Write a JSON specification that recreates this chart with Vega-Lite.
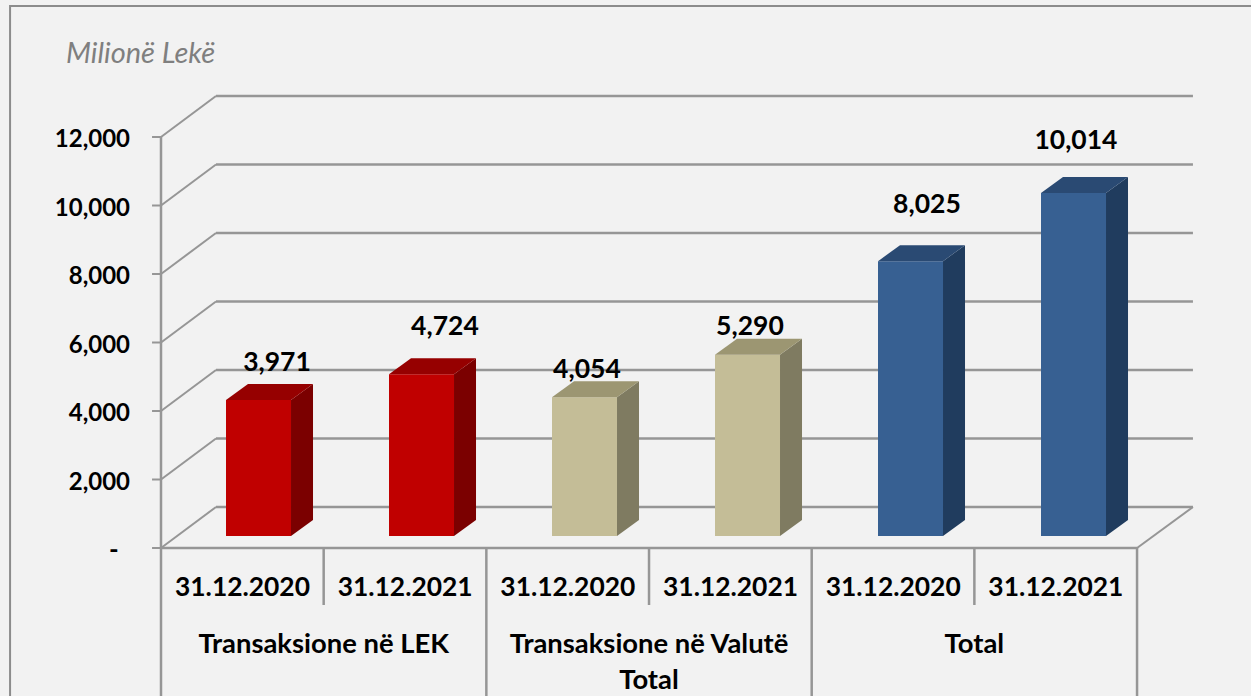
{
"$schema":"https://vega.github.io/schema/vega-lite/v6.json",
"autosize":"none",
"width":1251,"height":696,"padding":0,
"background":"#f2f2f2",
"config":{"view":{"stroke":null},"text":{"font":"Lato"}},
"datasets":{
"bars":[
{"i":0,"group":"Transaksione në LEK","date":"31.12.2020","value":3971},
{"i":1,"group":"Transaksione në LEK","date":"31.12.2021","value":4724},
{"i":2,"group":"Transaksione në Valutë Total","date":"31.12.2020","value":4054},
{"i":3,"group":"Transaksione në Valutë Total","date":"31.12.2021","value":5290},
{"i":4,"group":"Total","date":"31.12.2020","value":8025},
{"i":5,"group":"Total","date":"31.12.2021","value":10014}],
"ticks":[{"v":0,"label":"-"},{"v":2000,"label":"2,000"},{"v":4000,"label":"4,000"},{"v":6000,"label":"6,000"},{"v":8000,"label":"8,000"},{"v":10000,"label":"10,000"},{"v":12000,"label":"12,000"}],
"groups":[{"pos":1,"line":0,"label":"Transaksione në LEK"},{"pos":3,"line":0,"label":"Transaksione në Valutë"},{"pos":3,"line":1,"label":"Total"},{"pos":5,"line":0,"label":"Total"}],
"cuts":[{"c":0,"full":1},{"c":1,"full":0},{"c":2,"full":1},{"c":3,"full":0},{"c":4,"full":1},{"c":5,"full":0},{"c":6,"full":1}],
"one":[{"t":"Milionë Lekë"}]
},
"data":{"name":"one"},
"layer":[
{"transform":[{"calculate":"-0.926","as":"xa"},{"calculate":"6.9","as":"xb"},{"calculate":"15825","as":"ya"},{"calculate":"-5000","as":"yb"}],
 "mark":{"type":"rect","fill":"#f2f2f2","stroke":"#8c8c8c","strokeWidth":2},
 "encoding":{"x":{"field":"xa","type":"quantitative","scale":{"domain":[-0.98773,6.68712],"nice":false,"zero":false},"axis":null},"x2":{"field":"xb"},
 "y":{"field":"ya","type":"quantitative","scale":{"domain":[-4321,16000],"nice":false,"zero":false},"axis":null},"y2":{"field":"yb"}}},
{"data":{"name":"ticks"},"transform":[{"calculate":"datum.v+1197","as":"vb"},{"calculate":"0.3374","as":"xa"},{"calculate":"6.331","as":"xb"}],"mark":{"type":"rule","stroke":"#969696","strokeWidth":2.5},
 "encoding":{"x":{"field":"xa","type":"quantitative"},"x2":{"field":"xb"},"y":{"field":"vb","type":"quantitative"}}},
{"data":{"name":"ticks"},"transform":[{"calculate":"datum.v+1197","as":"vb"},{"calculate":"0","as":"xa"},{"calculate":"0.3374","as":"xb"}],"mark":{"type":"rule","stroke":"#969696","strokeWidth":2},
 "encoding":{"x":{"field":"xa","type":"quantitative"},"x2":{"field":"xb"},"y":{"field":"v","type":"quantitative"},"y2":{"field":"vb"}}},
{"data":{"name":"ticks"},"transform":[{"calculate":"-0.055","as":"xa"},{"calculate":"0","as":"xb"}],"mark":{"type":"rule","stroke":"#969696","strokeWidth":2},
 "encoding":{"x":{"field":"xa","type":"quantitative"},"x2":{"field":"xb"},"y":{"field":"v","type":"quantitative"}}},
{"transform":[{"calculate":"0","as":"xa"},{"calculate":"0","as":"ya"},{"calculate":"12000","as":"yb"}],"mark":{"type":"rule","stroke":"#969696","strokeWidth":2.5},
 "encoding":{"x":{"field":"xa","type":"quantitative"},"y":{"field":"ya","type":"quantitative"},"y2":{"field":"yb"}}},
{"transform":[{"calculate":"5.988","as":"xa"},{"calculate":"6.331","as":"xb"},{"calculate":"0","as":"ya"},{"calculate":"1197","as":"yb"}],"mark":{"type":"rule","stroke":"#969696","strokeWidth":2},
 "encoding":{"x":{"field":"xa","type":"quantitative"},"x2":{"field":"xb"},"y":{"field":"ya","type":"quantitative"},"y2":{"field":"yb"}}},
{"transform":[{"calculate":"0","as":"xa"},{"calculate":"5.988","as":"xb"},{"calculate":"0","as":"ya"}],"mark":{"type":"rule","stroke":"#969696","strokeWidth":2.5},
 "encoding":{"x":{"field":"xa","type":"quantitative"},"x2":{"field":"xb"},"y":{"field":"ya","type":"quantitative"}}},
{"data":{"name":"cuts"},"transform":[{"calculate":"datum.c*5.988/6","as":"xc"},{"calculate":"0","as":"ya"},{"calculate":"datum.full?-4321:-1664","as":"ye"}],"mark":{"type":"rule","stroke":"#969696","strokeWidth":2.5},
 "encoding":{"x":{"field":"xc","type":"quantitative"},"y":{"field":"ya","type":"quantitative"},"y2":{"field":"ye"}}},
{"data":{"name":"bars"},"transform":[{"calculate":"datum.i+0.3988","as":"xl"},{"calculate":"datum.xl+0.3988","as":"xr"},{"calculate":"datum.value+350","as":"top"},{"calculate":"350","as":"base"}],
 "mark":{"type":"rect"},
 "encoding":{"x":{"field":"xl","type":"quantitative"},"x2":{"field":"xr"},"y":{"field":"top","type":"quantitative"},"y2":{"field":"base"},
 "color":{"field":"group","type":"nominal","legend":null,"scale":{"domain":["Transaksione në LEK","Transaksione në Valutë Total","Total"],"range":["#c00000","#c4bd97","#376092"]}}}},
{"data":{"name":"bars"},"transform":[{"calculate":"[0,1]","as":"k"},{"flatten":["k"]},{"calculate":"datum.i+0.7976+datum.k*0.135","as":"xs"},{"calculate":"datum.value+350+datum.k*467","as":"yt"},{"calculate":"350+datum.k*467","as":"yb"}],
 "mark":{"type":"area","line":false,"interpolate":"linear"},
 "encoding":{"x":{"field":"xs","type":"quantitative"},"y":{"field":"yt","type":"quantitative","stack":null},"y2":{"field":"yb"},"detail":{"field":"i"},
 "color":{"field":"group","type":"nominal","legend":null,"scale":{"domain":["Transaksione në LEK","Transaksione në Valutë Total","Total"],"range":["#7b0000","#7f7b61","#203c5e"]}}}},
{"data":{"name":"bars"},"transform":[{"calculate":"[0,1]","as":"k"},{"flatten":["k"]},{"calculate":"datum.i+0.3988+datum.k*0.135","as":"xa"},{"calculate":"datum.xa+0.3988","as":"xb"},{"calculate":"datum.value+350+datum.k*467","as":"yt"}],
 "mark":{"type":"area","orient":"horizontal","interpolate":"linear"},
 "encoding":{"y":{"field":"yt","type":"quantitative"},"x":{"field":"xa","type":"quantitative","stack":null},"x2":{"field":"xb"},"detail":{"field":"i"},
 "color":{"field":"group","type":"nominal","legend":null,"scale":{"domain":["Transaksione në LEK","Transaksione në Valutë Total","Total"],"range":["#960000","#9c9672","#2a4a73"]}}}},
{"data":{"name":"ticks"},"transform":[{"filter":"datum.v>0"},{"calculate":"-0.19","as":"xa"}],"mark":{"type":"text","align":"right","baseline":"middle","fontSize":24,"fontWeight":"bold","dy":3,"color":"#000000"},
 "encoding":{"x":{"field":"xa","type":"quantitative"},"y":{"field":"v","type":"quantitative"},"text":{"field":"label"}}},
{"data":{"name":"ticks"},"transform":[{"filter":"datum.v==0"},{"calculate":"-0.26","as":"xa"}],"mark":{"type":"text","align":"right","baseline":"middle","fontSize":26,"fontWeight":"bold","dy":3,"color":"#000000"},
 "encoding":{"x":{"field":"xa","type":"quantitative"},"y":{"field":"v","type":"quantitative"},"text":{"field":"label"}}},
{"data":{"name":"bars"},"transform":[{"calculate":"datum.i*5.988/6+0.5","as":"xm"},{"calculate":"-1168","as":"ym"}],"mark":{"type":"text","align":"center","baseline":"middle","fontSize":26.4,"fontWeight":"bold","color":"#000000"},
 "encoding":{"x":{"field":"xm","type":"quantitative"},"y":{"field":"ym","type":"quantitative"},"text":{"field":"date"}}},
{"data":{"name":"groups"},"transform":[{"calculate":"datum.pos*5.988/6","as":"xm"},{"calculate":"-2832-datum.line*1051","as":"ym"}],"mark":{"type":"text","align":"center","baseline":"middle","fontSize":27.4,"fontWeight":"bold","color":"#000000"},
 "encoding":{"x":{"field":"xm","type":"quantitative"},"y":{"field":"ym","type":"quantitative"},"text":{"field":"label"}}},
{"data":{"name":"bars"},"transform":[{"calculate":"datum.i+[0.7117,0.742,0.613,0.613,0.699,0.613][datum.i]","as":"xl"},{"calculate":"datum.value+[1460,1758,1172,1192,2019,1898][datum.i]","as":"yl"}],
 "mark":{"type":"text","align":"center","baseline":"middle","fontSize":26.5,"fontWeight":"bold","dy":1,"color":"#000000"},
 "encoding":{"x":{"field":"xl","type":"quantitative"},"y":{"field":"yl","type":"quantitative"},"text":{"field":"value","type":"quantitative","format":","}}},
{"transform":[{"calculate":"-0.5828","as":"xa"},{"calculate":"14420","as":"ya"}],"mark":{"type":"text","align":"left","baseline":"middle","fontSize":29,"fontStyle":"italic","color":"#7f7f7f"},
 "encoding":{"x":{"field":"xa","type":"quantitative"},"y":{"field":"ya","type":"quantitative"},"text":{"field":"t"}}}
],
"resolve":{"scale":{"color":"independent"}}
}
